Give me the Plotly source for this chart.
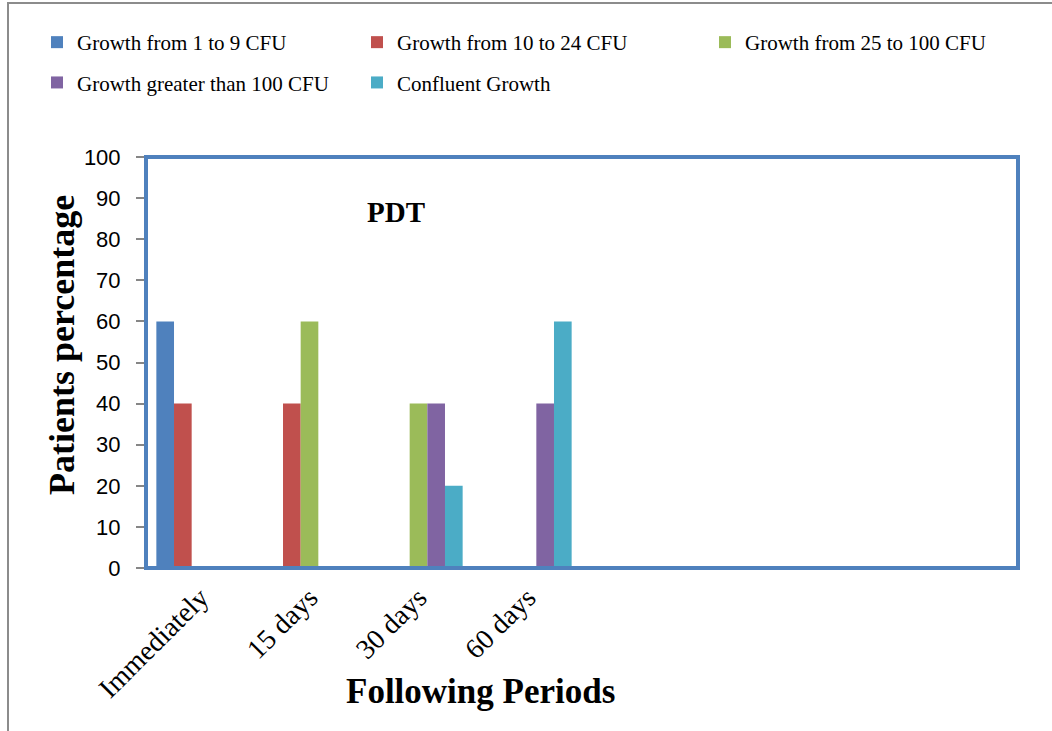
import plotly.graph_objects as go

# Follow-up periods (4 used slots, 4 empty slots on the axis)
periods = ["Immediately", "15 days", "30 days", "60 days"]
n_slots = 8

series_names = [
    "Growth from 1 to 9 CFU",
    "Growth from 10 to 24 CFU",
    "Growth from 25 to 100 CFU",
    "Growth greater than 100 CFU",
    "Confluent Growth",
]
growth_1_9 = [60, 0, 0, 0]
growth_10_24 = [40, 40, 0, 0]
growth_25_100 = [0, 60, 40, 0]
growth_over_100 = [0, 0, 40, 40]
confluent = [0, 0, 20, 60]

colors = ["#4F81BD", "#C0504D", "#9BBB59", "#8064A2", "#4BACC6"]
legend_ids = ["legend", "legend2", "legend3", "legend", "legend2"]

serif = "Liberation Serif"
sans = "Liberation Sans"

fig = go.Figure()
for i, (name, vals) in enumerate(zip(series_names,
                                     [growth_1_9, growth_10_24, growth_25_100,
                                      growth_over_100, confluent])):
    fig.add_trace(go.Bar(
        x=periods, y=vals, name=name,
        marker=dict(color=colors[i], line=dict(width=0)),
        legend=legend_ids[i], legendgroup=f"g{i}",
    ))

legend_common = dict(
    font=dict(family=serif, size=21, color="black"),
    bgcolor="rgba(0,0,0,0)", borderwidth=0,
    xanchor="left", yanchor="top",
    tracegroupgap=10, itemwidth=30,
)

def px_x(px):
    return (px - 146) / 872

def px_y(py):
    return (568 - py) / 411

fig.update_layout(
    width=1052, height=731,
    margin=dict(l=146, r=34, t=157, b=163, autoexpand=False),
    paper_bgcolor="white", plot_bgcolor="white",
    font=dict(family=serif, color="black"),
    barmode="group", bargap=0.19, bargroupgap=0,
    showlegend=True,
    legend=dict(x=px_x(37), y=px_y(22), **legend_common),
    legend2=dict(x=px_x(357), y=px_y(22), **legend_common),
    legend3=dict(x=px_x(705), y=px_y(22), **legend_common),
    xaxis=dict(
        type="category", categoryorder="array", categoryarray=periods,
        range=[-0.5, n_slots - 0.5], automargin=False,
        tickangle=-45, tickfont=dict(family=serif, size=28, color="black"),
        showline=True, linecolor="#868686", linewidth=2,
        ticks="", showgrid=False, zeroline=False,
    ),
    yaxis=dict(
        range=[0, 100], dtick=10, automargin=False,
        tickfont=dict(family=sans, size=22, color="black"),
        ticks="outside", ticklen=8, tickwidth=2, tickcolor="#868686",
        ticklabelstandoff=11,
        showline=True, linecolor="#868686", linewidth=2,
        showgrid=False, zeroline=False,
    ),
    shapes=[
        # outer chart frame
        dict(type="rect", xref="paper", yref="paper",
             x0=px_x(8), x1=px_x(1100), y0=px_y(780), y1=px_y(3),
             line=dict(color="#8C8C8C", width=2), layer="below"),
        # plot-area border
        dict(type="rect", xref="paper", yref="paper",
             x0=0, x1=1, y0=0, y1=1,
             line=dict(color="#4F81BD", width=4), layer="above"),
    ],
    annotations=[
        dict(text="<b>PDT</b>", xref="paper", yref="paper",
             x=px_x(396), y=px_y(212), xanchor="center", yanchor="middle",
             showarrow=False, font=dict(family=serif, size=29, color="black")),
        dict(text="<b>Patients percentage</b>", xref="paper", yref="paper",
             x=px_x(62), y=px_y(345), xanchor="center", yanchor="middle",
             textangle=-90, showarrow=False,
             font=dict(family=serif, size=36, color="black")),
        dict(text="<b>Following Periods</b>", xref="paper", yref="paper",
             x=px_x(480), y=px_y(691), xanchor="center", yanchor="middle",
             showarrow=False,
             font=dict(family=serif, size=35, color="black")),
    ],
)

fig.write_html("out.html")
